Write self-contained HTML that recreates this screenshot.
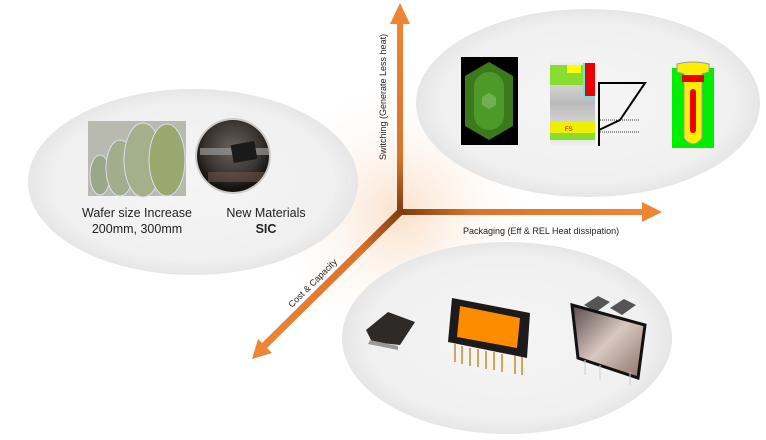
<!DOCTYPE html>
<html><head><style>body{margin:0;background:#fff}svg{display:block}</style></head><body>
<svg width="766" height="440" viewBox="0 0 766 440" xmlns="http://www.w3.org/2000/svg" font-family="Liberation Sans, sans-serif">
<defs>
<radialGradient id="e" cx="50%" cy="50%" r="50%"><stop offset="0" stop-color="#f5f5f5"/><stop offset="0.85" stop-color="#f0f0f0"/><stop offset="1" stop-color="#e6e6e6"/></radialGradient>
<radialGradient id="glow" cx="400" cy="213" r="140" gradientUnits="userSpaceOnUse"><stop offset="0" stop-color="#f6c8a0" stop-opacity="0.55"/><stop offset="1" stop-color="#fff" stop-opacity="0"/></radialGradient>
<linearGradient id="av" x1="0" y1="1" x2="0" y2="0"><stop offset="0" stop-color="#7a3a10"/><stop offset="0.3" stop-color="#d9732c"/><stop offset="1" stop-color="#ee8535"/></linearGradient>
<linearGradient id="ah" x1="0" y1="0" x2="1" y2="0"><stop offset="0" stop-color="#7a3a10"/><stop offset="0.3" stop-color="#d9732c"/><stop offset="1" stop-color="#ee8535"/></linearGradient>
<linearGradient id="ad" x1="1" y1="0" x2="0" y2="1"><stop offset="0" stop-color="#7a3a10"/><stop offset="0.3" stop-color="#d9732c"/><stop offset="1" stop-color="#ee8535"/></linearGradient>
<linearGradient id="sil" x1="0" y1="0" x2="0" y2="1"><stop offset="0" stop-color="#eee"/><stop offset="0.5" stop-color="#bbb"/><stop offset="1" stop-color="#eee"/></linearGradient>
<linearGradient id="mir" x1="0" y1="0" x2="1" y2="1"><stop offset="0" stop-color="#5a4a48"/><stop offset="0.5" stop-color="#d8c8c0"/><stop offset="1" stop-color="#8a7068"/></linearGradient>
<radialGradient id="sic" cx="50%" cy="40%" r="55%"><stop offset="0" stop-color="#6a625c"/><stop offset="0.7" stop-color="#3a3430"/><stop offset="1" stop-color="#151210"/></radialGradient>
<clipPath id="cc"><circle cx="233" cy="156" r="36"/></clipPath>
</defs>
<circle cx="400" cy="213" r="140" fill="url(#glow)"/>
<ellipse cx="193" cy="182" rx="165" ry="93" fill="url(#e)"/>
<ellipse cx="588" cy="103" rx="172" ry="94" fill="url(#e)"/>
<ellipse cx="507" cy="338" rx="165" ry="96" fill="url(#e)"/>
<!-- axes -->
<rect x="397" y="22" width="6" height="193" fill="url(#av)"/>
<polygon points="400,3 390,24 410,24" fill="#ee8535"/>
<rect x="398" y="209" width="246" height="6" fill="url(#ah)"/>
<polygon points="662,212 642,202 642,222" fill="#ee8535"/>
<polygon points="398,209 403,214 266,349 261,344" fill="url(#ad)"/>
<polygon points="252,359 258,339 272,353" fill="#ee8535"/>
<text x="0" y="0" font-size="9" fill="#222" transform="translate(386,160) rotate(-90)">Switching (Generate Less heat)</text>
<text x="463" y="234" font-size="9" fill="#222">Packaging (Eff &amp; REL Heat dissipation)</text>
<text x="0" y="0" font-size="9" fill="#222" transform="translate(292,308) rotate(-45)">Cost &amp; Capacity</text>
<!-- left ellipse content -->
<rect x="88" y="121" width="98" height="75" fill="#b8bab0"/>
<ellipse cx="100" cy="175" rx="10" ry="20" fill="#9aa88a" stroke="#dde" stroke-width="1"/>
<ellipse cx="120" cy="168" rx="14" ry="28" fill="#a0ae8c" stroke="#dde"/>
<ellipse cx="143" cy="160" rx="19" ry="37" fill="#a4b08a" stroke="#dde"/>
<ellipse cx="167" cy="160" rx="18" ry="36" fill="#9aa870" stroke="#dde"/>
<circle cx="233" cy="156" r="38" fill="#ccc"/>
<circle cx="233" cy="156" r="36" fill="url(#sic)"/>
<g clip-path="url(#cc)">
<rect x="200" y="148" width="80" height="7" fill="#999" opacity="0.7"/>
<rect x="232" y="143" width="24" height="18" fill="#1a1a1a" transform="rotate(-10 244 152)"/>
<rect x="208" y="172" width="60" height="10" fill="#6a5548" opacity="0.6"/>
</g>
<text x="137" y="217" font-size="12.5" fill="#222" text-anchor="middle">Wafer size Increase</text>
<text x="137" y="233" font-size="12.5" fill="#222" text-anchor="middle">200mm, 300mm</text>
<text x="266" y="217" font-size="12.5" fill="#222" text-anchor="middle">New Materials</text>
<text x="266" y="233" font-size="12.5" fill="#222" text-anchor="middle" font-weight="bold">SIC</text>
<!-- top right content -->
<rect x="461" y="57" width="57" height="88" fill="#000"/>
<polygon points="489,62 513,76 513,126 489,140 465,126 465,76" fill="#3a7a1a"/>
<rect x="474" y="72" width="30" height="58" rx="15" fill="#4e9a28"/>
<polygon points="489,93 496,97 496,105 489,109 482,105 482,97" fill="#70b050"/>
<rect x="550" y="62" width="45" height="83" fill="url(#sil)"/>
<rect x="550" y="65" width="45" height="20" fill="#88dd30"/>
<rect x="567" y="65" width="14" height="8" fill="#ffff00"/>
<rect x="583" y="63" width="12" height="35" fill="#5ee"/>
<rect x="585" y="63" width="10" height="33" fill="#e00"/>
<rect x="550" y="121" width="45" height="12" fill="#eeee00"/>
<text x="565" y="131" font-size="6" fill="#d00">FS</text>
<rect x="550" y="133" width="45" height="7" fill="#88dd30"/>
<polyline points="599,146 599,83 645,83 620,120 599,130" fill="none" stroke="#000" stroke-width="2"/>
<line x1="600" y1="120" x2="640" y2="120" stroke="#333" stroke-dasharray="1,1"/>
<line x1="600" y1="132" x2="640" y2="132" stroke="#333" stroke-dasharray="1,1"/>
<rect x="672" y="68" width="42" height="80" fill="#00ee00"/>
<path d="M677 64 Q693 60 709 64 L709 72 L702 74 L702 138 Q693 150 684 138 L684 74 L677 72 Z" fill="#ffee00" stroke="#99a" stroke-width="1"/>
<rect x="682" y="75" width="22" height="7" fill="#e00"/>
<rect x="690" y="89" width="6" height="44" rx="3" fill="#e00"/>
<!-- bottom content -->
<polygon points="366,330 388,312 415,322 400,345 372,342" fill="#2e2a28"/>
<polygon points="370,340 398,346 398,350 368,344" fill="#999"/>
<polygon points="452,298 530,313 527,358 448,342" fill="#1c1a1a"/>
<polygon points="460,306 520,318 517,348 457,337" fill="#ff8c00"/>
<g stroke="#c98a20" stroke-width="1.5"><line x1="455" y1="344" x2="455" y2="362"/><line x1="462" y1="346" x2="462" y2="364"/><line x1="470" y1="348" x2="470" y2="366"/><line x1="478" y1="349" x2="478" y2="367"/><line x1="486" y1="351" x2="486" y2="369"/><line x1="494" y1="352" x2="494" y2="370"/><line x1="502" y1="354" x2="502" y2="372"/><line x1="515" y1="356" x2="515" y2="374"/><line x1="522" y1="357" x2="522" y2="375"/></g>
<polygon points="584,305 598,296 610,302 596,312" fill="#555"/>
<polygon points="610,308 624,299 636,305 622,315" fill="#555"/>
<polygon points="572,305 645,325 638,378 578,358" fill="url(#mir)" stroke="#111" stroke-width="3"/>
<g stroke="#ccc"><line x1="585" y1="360" x2="585" y2="375"/><line x1="600" y1="365" x2="600" y2="380"/><line x1="630" y1="372" x2="630" y2="385"/></g>
</svg>
</body></html>
